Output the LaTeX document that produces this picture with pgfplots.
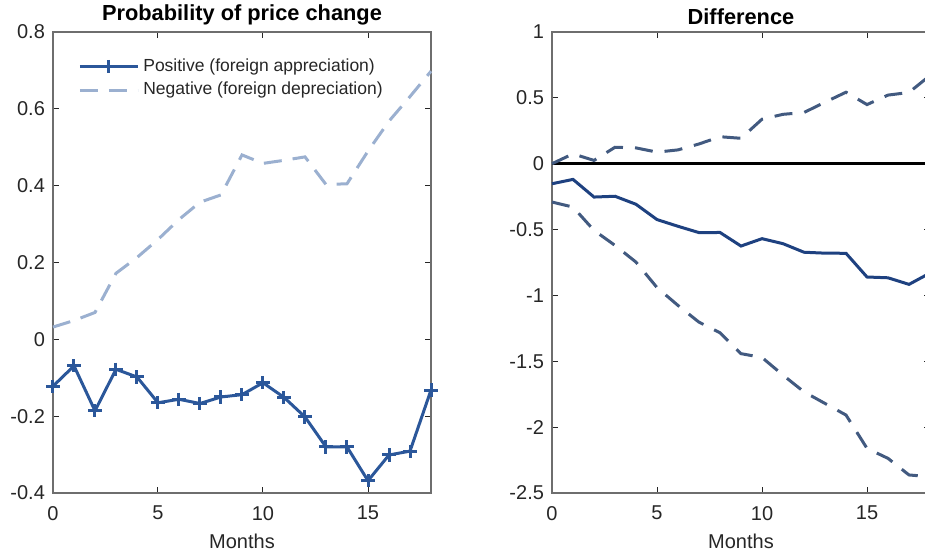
\documentclass[border=0pt]{standalone}
\usepackage{fontspec}
\setmainfont{Liberation Sans}
\usepackage{pgfplots}
\pgfplotsset{compat=1.18}
\definecolor{PosBlue}{HTML}{2B579A}
\definecolor{NegBlue}{HTML}{9BB0D0}
\definecolor{DiffBlue}{HTML}{1E4180}
\definecolor{BandBlue}{HTML}{425A80}
\definecolor{AxGray}{HTML}{6E6E6E}
\definecolor{TxtGray}{HTML}{262626}

\pgfplotsset{
  panel/.style={scale only axis,width=189pt,height=230.5pt,xmin=0,xmax=18,
    xtick={0,5,10,15},xticklabels={0,5,10,15},
    axis line style={draw=AxGray,line width=0.6pt},
    major tick style={draw=TxtGray,line width=0.5pt},major tick length=3pt,
    tick align=inside,tick label style={font=\fontsize{10}{12}\selectfont,text=TxtGray},
    label style={font=\fontsize{10}{12}\selectfont,text=TxtGray},
    title style={font=\fontsize{10.9}{12}\selectfont\bfseries,inner sep=0pt,
      at={(0.5,1)},anchor=south,yshift=-2.5pt},
    xticklabel style={yshift=-3pt},yticklabel style={xshift=-0.5pt},
    xlabel={Months},xlabel style={yshift=0pt},clip=false}
}

\begin{document}
\begin{tikzpicture}
\begin{axis}[panel,at={(0pt,0pt)},anchor=south west,
  title={Probability of price change},
  ymin=-0.4,ymax=0.8,ytick={-0.4,-0.2,0,0.2,0.4,0.6,0.8},
  yticklabels={-0.4,-0.2,0,0.2,0.4,0.6,0.8},
  legend style={draw=none,fill=none,at={(0.066,0.952)},anchor=north west,
    font=\fontsize{8.75}{10}\selectfont,text=TxtGray,row sep=0pt,
    inner xsep=0pt,inner ysep=0pt},
  legend cell align=left,
  legend image code/.code={\draw[mark repeat=2,mark phase=2]
    plot coordinates {(0pt,0pt)(14.5pt,0pt)(29pt,0pt)};}]
\addplot[color=PosBlue,line width=1.5pt,mark=+,mark size=3.3pt,
  mark options={line width=1.5pt}] coordinates
{(0,-0.122)(1,-0.069)(2,-0.186)(3,-0.078)(4,-0.098)(5,-0.165)(6,-0.156)
 (7,-0.167)(8,-0.150)(9,-0.144)(10,-0.113)(11,-0.151)(12,-0.202)(13,-0.280)
 (14,-0.280)(15,-0.368)(16,-0.301)(17,-0.291)(18,-0.132)};
\addlegendentry{Positive (foreign appreciation)}
\addplot[color=NegBlue,line width=1.5pt,dash pattern=on 9pt off 5.5pt] coordinates
{(0,0.032)(1,0.049)(2,0.070)(3,0.172)(4,0.213)(5,0.260)(6,0.312)(7,0.357)
 (8,0.376)(9,0.480)(10,0.458)(11,0.466)(12,0.475)(13,0.403)(14,0.405)
 (15,0.490)(16,0.568)(17,0.632)(18,0.698)};
\addlegendentry{Negative (foreign depreciation)}
\end{axis}

\begin{axis}[panel,at={(249.5pt,0pt)},anchor=south west,
  title={Difference},
  ymin=-2.5,ymax=1,ytick={-2.5,-2,-1.5,-1,-0.5,0,0.5,1},
  yticklabels={-2.5,-2,-1.5,-1,-0.5,0,0.5,1}]
\addplot[color=black,line width=1.6pt] coordinates {(0,0)(18,0)};
\addplot[color=BandBlue,line width=1.5pt,dash pattern=on 9pt off 6pt] coordinates
{(0,0.000)(1,0.075)(2,0.025)(3,0.125)(4,0.120)(5,0.088)(6,0.105)(7,0.150)
 (8,0.205)(9,0.193)(10,0.338)(11,0.375)(12,0.389)(13,0.467)(14,0.543)
 (15,0.449)(16,0.521)(17,0.541)(18,0.670)};
\addplot[color=DiffBlue,line width=1.5pt] coordinates
{(0,-0.152)(1,-0.119)(2,-0.253)(3,-0.247)(4,-0.308)(5,-0.424)(6,-0.475)
 (7,-0.523)(8,-0.522)(9,-0.625)(10,-0.569)(11,-0.607)(12,-0.672)(13,-0.679)
 (14,-0.680)(15,-0.860)(16,-0.866)(17,-0.916)(18,-0.830)};
\addplot[color=BandBlue,line width=1.5pt,dash pattern=on 9pt off 6pt] coordinates
{(0,-0.291)(1,-0.329)(2,-0.506)(3,-0.620)(4,-0.747)(5,-0.940)(6,-1.076)
 (7,-1.203)(8,-1.283)(9,-1.442)(10,-1.471)(11,-1.605)(12,-1.732)(13,-1.820)
 (14,-1.908)(15,-2.161)(16,-2.237)(17,-2.363)(18,-2.376)};
\end{axis}
\pgfresetboundingbox
\useasboundingbox (-26.5pt,-30.5pt) rectangle (436pt,246.5pt);
\end{tikzpicture}
\end{document}
